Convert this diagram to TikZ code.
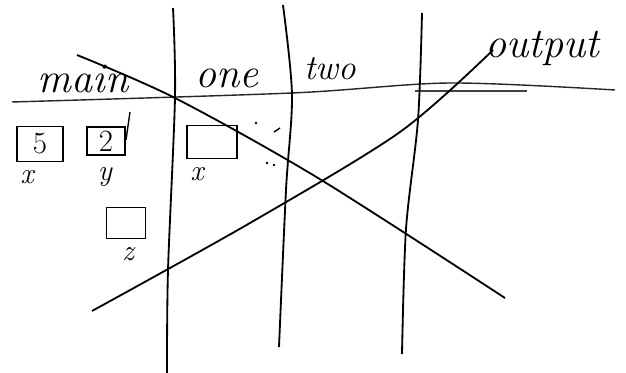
\documentclass[tikz,border=0pt]{standalone}
\begin{document}
\begin{tikzpicture}[
    x=0.025cm, y=-0.025cm,
    line width=1.3pt,
    color=black,
    % Style for the hand-drawn memory cells
    cell/.style={draw, line width=1.2pt, inner sep=0pt, font=\fontsize{22}{24}\selectfont},
    % Style for the variable names under the cells
    var text/.style={font=\fontsize{21}{23}\selectfont\itshape},
    % Style for the column headings
    head text/.style={anchor=base, font=\fontsize{30}{32}\selectfont\itshape},
    dot/.style={circle, fill, inner sep=0pt, minimum size=2pt}
]
    \useasboundingbox (0,0) rectangle (626,373);

    % ==========================
    % Grid: heading line and column lines
    % ==========================
    \draw[line width=1pt, black!85] plot[smooth] coordinates
        {(12,102) (292,93) (450,83) (615,90)};
    \draw[line width=0.9pt, black!75] (415,91) -- (527,91);

    \draw plot[smooth] coordinates {(173,8) (175,97) (168,270) (167,373)};
    \draw plot[smooth] coordinates {(283,5) (292,95) (286,190) (279,347)};
    \draw plot[smooth] coordinates {(422,13) (418,120) (406,229) (402,354)};

    % ==========================
    % Column headings
    % ==========================
    \node[head text] (hmain) at (83,93) {main};
    \node[head text] (hone) at (227,88) {one};
    \node[head text, font=\fontsize{25}{27}\selectfont\itshape] (htwo) at (330,80) {two};
    \node[head text] (hout) at (542,58) {output};

    % ==========================
    % Cells of main
    % ==========================
    \node[cell, minimum width=1.15cm, minimum height=0.88cm] (cellx) at (40,144) {5};
    \node[var text] (namex) at (27,177) {x};

    \node[cell, minimum width=0.95cm, minimum height=0.7cm] (celly) at (106,141) {2};
    \draw[line width=1pt] (130,112) -- (126,140);
    \node[var text] (namey) at (105,177) {y};

    \node[cell, minimum width=0.98cm, minimum height=0.78cm] (cellz) at (126,223) {};
    \node[var text] (namez) at (128,254) {z};

    % ==========================
    % Cell of one
    % ==========================
    \node[cell, minimum width=1.25cm, minimum height=0.83cm] (cellone) at (212,142) {};
    \node[var text] (nameone) at (197,174) {x};

    \node[dot] (d1) at (256,123) {};
    \draw[line width=1pt] (274,132) -- (280,128);
    \node[dot] (d3) at (267,163) {};
    \node[dot] (d4) at (274,165) {};

    % ==========================
    % The two crossing strokes
    % ==========================
    \draw plot[smooth] coordinates
        {(77,55) (175,98) (318,178) (505,298)};
    \draw plot[smooth] coordinates
        {(92,311) (250,223) (400,132) (493,50)};

\end{tikzpicture}
\end{document}
